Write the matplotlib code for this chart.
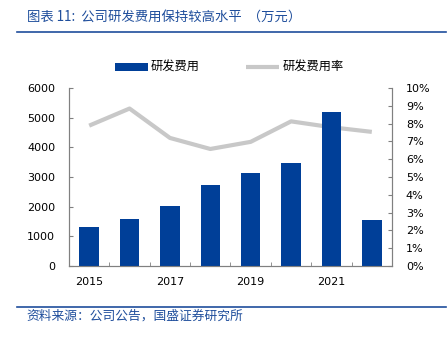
import matplotlib
matplotlib.use('Agg')
import matplotlib.pyplot as plt
import numpy as np

plt.rcParams['font.family'] = ['DejaVu Sans', 'Noto Sans CJK SC']

# data
years = ['2015', '2016', '2017', '2018', '2019', '2020', '2021', '2022']
rd_cost = [1300, 1580, 2030, 2740, 3130, 3470, 5180, 1560]
rd_rate = [7.88, 8.84, 7.19, 6.57, 6.97, 8.12, 7.79, 7.53]
shown_years = ['2015', '', '2017', '', '2019', '', '2021', '']

bar_color = '#003f98'
line_color = '#c8c8c8'
spine_color = '#808080'
text_blue = '#1f4e9c'
cjk = ['Noto Sans CJK SC', 'DejaVu Sans']

fig = plt.figure(figsize=(4.48, 3.38), dpi=100)
ax = fig.add_axes([0.154, 0.213, 0.721, 0.527])
ax2 = ax.twinx()

x = np.arange(len(years))

# line sits behind the bars
ax.set_zorder(ax2.get_zorder() + 1)
ax.patch.set_visible(False)
ax2.plot(x, rd_rate, color=line_color, linewidth=3, solid_capstyle='butt', label='研发费用率')
ax.bar(x, rd_cost, width=0.48, color=bar_color, label='研发费用')

ax.set_xlim(-0.5, len(years) - 0.5)
ax.set_ylim(0, 6000)
ax.set_yticks(range(0, 6001, 1000))
ax2.set_ylim(0, 10)
ax2.set_yticks(range(0, 11))
ax2.set_yticklabels([f'{v}%' for v in range(0, 11)])

ax.set_xticks(x)
ax.set_xticklabels(shown_years)
ax.set_xticks(np.arange(-0.5, len(years)), minor=True)
ax.tick_params(axis='x', which='major', length=0, pad=8, labelsize=8)
ax.tick_params(axis='x', which='minor', length=3, direction='in', color=spine_color)
ax.tick_params(axis='y', direction='in', length=3, color=spine_color, labelsize=8, pad=10)
ax2.tick_params(axis='y', direction='in', length=3, color=spine_color, labelsize=8, pad=10)

for a in (ax, ax2):
    a.spines['top'].set_visible(False)
    for s in ('left', 'right', 'bottom'):
        a.spines[s].set_color(spine_color)
        a.spines[s].set_linewidth(0.8)

# legend
h1, l1 = ax.get_legend_handles_labels()
h2, l2 = ax2.get_legend_handles_labels()
leg = fig.legend(h1 + h2, l1 + l2, loc='center', bbox_to_anchor=(0.512, 0.80), ncol=2,
                 frameon=False, prop={'family': cjk, 'size': 8.8},
                 handlelength=2.7, handleheight=0.7, columnspacing=3.8, handletextpad=0.25)

# title and source
fig.text(0.06, 0.951, '图表 11:  公司研发费用保持较高水平  （万元）', family=cjk, fontsize=9.6,
         color=text_blue, style='italic', va='center')
fig.add_artist(plt.Line2D([0.038, 0.995], [0.905, 0.905], color=text_blue, linewidth=1.2))
fig.add_artist(plt.Line2D([0.038, 0.995], [0.092, 0.092], color=text_blue, linewidth=1.2))
fig.text(0.06, 0.066, '资料来源：公司公告，国盛证券研究所', family=cjk, fontsize=9.2,
         color=text_blue, style='italic', va='center')

fig.savefig('out.png', dpi=100)
